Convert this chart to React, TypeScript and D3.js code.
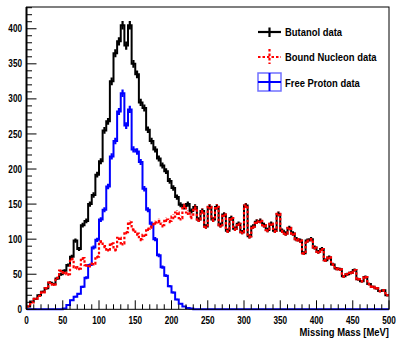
import React from "react";
import * as d3 from "d3";

// Bin lower edges, 5 MeV wide, from 0 to 495 MeV
const binEdges: number[] = d3.range(0, 500, 5);

const butanol: number[] = [
  4, 11, 15, 20, 25, 30, 38, 36, 44, 50,
  55, 63, 75, 98, 86, 120, 126, 150, 163, 192,
  211, 255, 268, 325, 365, 382, 405, 376, 405, 350,
  335, 295, 287, 256, 240, 228, 215, 205, 197, 183,
  173, 160, 149, 146, 150, 140, 146, 128, 140, 118,
  146, 128, 146, 120, 135, 112, 130, 115, 122, 110,
  148, 104, 118, 125, 126, 120, 113, 122, 112, 136,
  112, 108, 116, 108, 100, 98, 80, 98, 100, 88,
  82, 86, 70, 74, 64, 58, 57, 47, 50, 52,
  56, 43, 40, 46, 36, 32, 30, 26, 27, 20,
];

const boundNucleon: number[] = [
  4, 10, 15, 19, 24, 30, 38, 35, 45, 55,
  52, 50, 72, 60, 58, 73, 63, 62, 65, 75,
  97, 90, 85, 94, 85, 102, 94, 110, 124, 114,
  108, 100, 106, 115, 118, 124, 126, 120, 128, 126,
  132, 138, 130, 148, 138, 132, 145, 128, 140, 118,
  146, 128, 146, 120, 135, 112, 130, 115, 122, 110,
  148, 104, 118, 125, 126, 120, 113, 122, 112, 136,
  112, 108, 116, 108, 100, 98, 80, 98, 100, 88,
  82, 86, 70, 74, 64, 58, 57, 47, 50, 52,
  56, 43, 40, 46, 36, 32, 30, 26, 27, 20,
];

const freeProton: number[] = [
  0, 0, 0, 0, 0, 0, 0, 0, 0, 0,
  1, 6, 13, 18, 22, 32, 45, 63, 88, 99,
  128, 142, 175, 218, 240, 282, 308, 262, 285, 228,
  225, 210, 172, 142, 122, 100, 77, 60, 48, 33,
  24, 14, 8, 4, 2, 1, 0, 0, 0, 0,
  0, 0, 0, 0, 0, 0, 0, 0, 0, 0,
  0, 0, 0, 0, 0, 0, 0, 0, 0, 0,
  0, 0, 0, 0, 0, 0, 0, 0, 0, 0,
  0, 0, 0, 0, 0, 0, 0, 0, 0, 0,
  0, 0, 0, 0, 0, 0, 0, 0, 0, 0,
];

const xTicks: number[] = [0, 50, 100, 150, 200, 250, 300, 350, 400, 450, 500];
const yTicks: number[] = [0, 50, 100, 150, 200, 250, 300, 350, 400];
const legendLabels: string[] = ["Butanol data", "Bound Nucleon data", "Free Proton data"];
const xTitle = "Missing Mass [MeV]";

const W = 398;
const H = 338;
const frame = { left: 26.5, right: 389, top: 7, bottom: 309.3 };
const binWidth = 5;
const font = "'Liberation Sans', Arial, Helvetica, sans-serif";
// horizontal squeeze giving a Helvetica-Narrow look
const narrow = 0.82;

const x = d3.scaleLinear().domain([0, 500]).range([frame.left, frame.right]);
const y = d3.scaleLinear().domain([0, 431]).range([frame.bottom, frame.top]);

const stepLine = d3
  .line<[number, number]>()
  .x((d) => x(d[0]))
  .y((d) => y(d[1]))
  .curve(d3.curveStepAfter);

function histPath(values: number[]): string {
  const pts: [number, number][] = binEdges.map((e, i) => [e, values[i]]);
  pts.push([500, values[values.length - 1]]);
  return stepLine(pts) || "";
}

function ErrorBars({ values, color, width, dash }: { values: number[]; color: string; width: number; dash?: string }) {
  return (
    <g stroke={color} strokeWidth={width} strokeDasharray={dash}>
      {binEdges.map((e, i) => {
        const v = values[i];
        if (v <= 0) return null;
        const err = Math.sqrt(v) * 0.3;
        const cx = x(e + binWidth / 2);
        return <line key={i} x1={cx} x2={cx} y1={y(v - err)} y2={y(v + err)} />;
      })}
    </g>
  );
}

function Label({ x: tx, y: ty, size, anchor, children }: { x: number; y: number; size: number; anchor?: string; children: React.ReactNode }) {
  return (
    <text
      transform={`translate(${tx},${ty}) scale(${narrow},1)`}
      fontSize={size}
      textAnchor={anchor || "start"}
      fill="#000"
    >
      {children}
    </text>
  );
}

export default function App() {
  const minorX = d3.range(0, 501, 10).filter((v) => v % 50 !== 0);
  const minorY = d3.range(0, 431, 10).filter((v) => v % 50 !== 0);
  const lx0 = 258;
  const lx1 = 281;
  const lxc = 269.5;
  return (
    <svg
      width={W}
      height={H}
      style={{ position: "absolute", left: 0, top: 0, background: "#fff" }}
      fontFamily={font}
      fontWeight="bold"
    >
      <defs>
        <clipPath id="plotArea">
          <rect x={frame.left} y={frame.top} width={frame.right - frame.left} height={frame.bottom - frame.top + 2} />
        </clipPath>
      </defs>

      <g clipPath="url(#plotArea)" fill="none">
        <path d={histPath(butanol)} stroke="#000" strokeWidth={2} />
        <ErrorBars values={butanol} color="#000" width={2.2} />
        <path d={histPath(freeProton)} stroke="#0000ff" strokeWidth={2} />
        <ErrorBars values={freeProton} color="#0000ff" width={2.2} />
        <path d={histPath(boundNucleon)} stroke="#ff0000" strokeWidth={2.2} strokeDasharray="2.5,2" />
        <ErrorBars values={boundNucleon} color="#ff0000" width={2} dash="2.5,2" />
      </g>

      {/* frame */}
      <rect
        x={frame.left}
        y={frame.top}
        width={frame.right - frame.left}
        height={frame.bottom - frame.top}
        fill="none"
        stroke="#000"
        strokeWidth={1}
      />
      <line x1={frame.left} x2={frame.left} y1={frame.top} y2={frame.bottom} stroke="#000" strokeWidth={2} />

      {/* y axis ticks and labels */}
      <g stroke="#000" strokeWidth={1}>
        {yTicks.map((t) => (
          <line key={"ym" + t} x1={frame.left} x2={frame.left + 10} y1={y(t)} y2={y(t)} />
        ))}
        {minorY.map((t) => (
          <line key={"yn" + t} x1={frame.left} x2={frame.left + 5.5} y1={y(t)} y2={y(t)} />
        ))}
      </g>
      {yTicks.map((t) => (
        <Label key={"yl" + t} x={22} y={y(t) + 3.6} size={10} anchor="end">
          {t}
        </Label>
      ))}

      {/* x axis ticks and labels */}
      <g stroke="#000" strokeWidth={1}>
        {xTicks.map((t) => (
          <line key={"xm" + t} x1={x(t)} x2={x(t)} y1={frame.bottom} y2={frame.bottom - 9} />
        ))}
        {minorX.map((t) => (
          <line key={"xn" + t} x1={x(t)} x2={x(t)} y1={frame.bottom} y2={frame.bottom - 5} />
        ))}
      </g>
      {xTicks.map((t) => (
        <Label key={"xl" + t} x={x(t)} y={323.5} size={10} anchor="middle">
          {t}
        </Label>
      ))}
      <Label x={frame.right} y={335.5} size={11.5} anchor="end">
        {xTitle}
      </Label>

      {/* legend */}
      <g>
        <line x1={lx0} x2={lx1} y1={32} y2={32} stroke="#000" strokeWidth={2.2} />
        <line x1={lxc} x2={lxc} y1={27.5} y2={37} stroke="#000" strokeWidth={2.2} />

        <line x1={lx0} x2={lx1} y1={57} y2={57} stroke="#ff0000" strokeWidth={2.2} strokeDasharray="2.5,2" />
        <line x1={lxc} x2={lxc} y1={49} y2={64} stroke="#ff0000" strokeWidth={2.2} strokeDasharray="2.5,2" />

        <rect x={lx0} y={73} width={lx1 - lx0} height={18} fill="none" stroke="#7070ff" strokeWidth={1.5} />
        <line x1={lx0} x2={lx1} y1={82} y2={82} stroke="#0000ff" strokeWidth={2} />
        <line x1={lxc} x2={lxc} y1={73} y2={91} stroke="#0000ff" strokeWidth={2} />

        <Label x={285} y={36} size={11.5}>{legendLabels[0]}</Label>
        <Label x={285} y={61} size={11.5}>{legendLabels[1]}</Label>
        <Label x={285} y={86.5} size={11.5}>{legendLabels[2]}</Label>
      </g>
    </svg>
  );
}
